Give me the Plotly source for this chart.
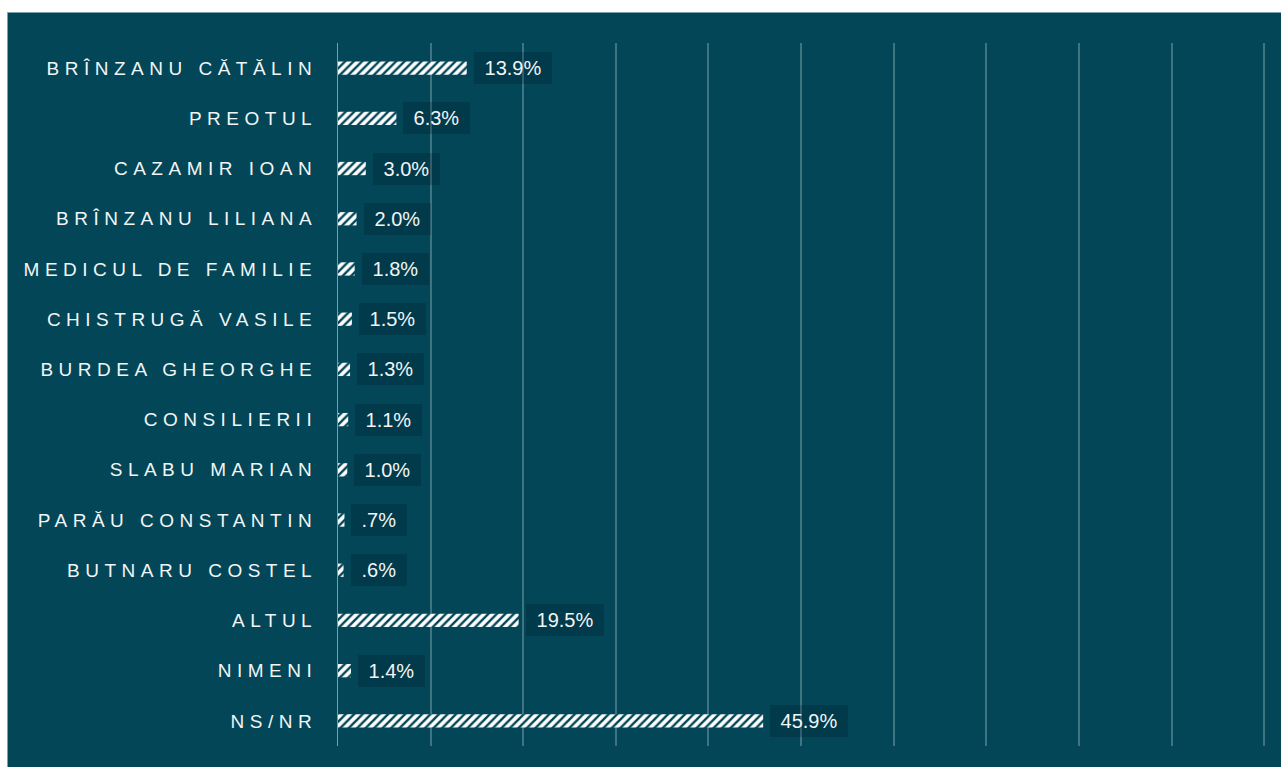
import plotly.graph_objects as go

categories = ["BRÎNZANU CĂTĂLIN", "PREOTUL", "CAZAMIR IOAN", "BRÎNZANU LILIANA",
              "MEDICUL DE FAMILIE", "CHISTRUGĂ VASILE", "BURDEA GHEORGHE",
              "CONSILIERII", "SLABU MARIAN", "PARĂU CONSTANTIN", "BUTNARU COSTEL",
              "ALTUL", "NIMENI", "NS/NR"]
values = [13.9, 6.3, 3.0, 2.0, 1.8, 1.5, 1.3, 1.1, 1.0, 0.7, 0.6, 19.5, 1.4, 45.9]
value_labels = ["13.9%", "6.3%", "3.0%", "2.0%", "1.8%", "1.5%", "1.3%", "1.1%",
                "1.0%", ".7%", ".6%", "19.5%", "1.4%", "45.9%"]

BG = "#024657"
FONT = "Liberation Sans, Arial, sans-serif"

fig = go.Figure()
fig.add_trace(go.Bar(
    x=values, y=categories, orientation="h", width=0.265,
    marker=dict(color="white", line=dict(width=0),
                pattern=dict(shape="/", fgcolor=BG, bgcolor="white",
                             size=6, solidity=0.4, fillmode="replace")),
    hoverinfo="skip",
))

for c, v, t in zip(categories, values, value_labels):
    fig.add_annotation(x=v, y=c, xref="x", yref="y", text="\u00a0" + t + "\u00a0",
                       showarrow=False, xanchor="left", yanchor="middle", xshift=7,
                       bgcolor="rgba(0,20,30,0.22)", borderpad=5, borderwidth=0,
                       font=dict(family=FONT, size=20, color="#f2f5f6"))

# body margin removed below, so figure coords == page coords
W, H = 1281, 767
L, T = 338, 43
pw, ph = 929, 703
R = W - L - pw
B = H - T - ph
fig.add_shape(type="rect", xref="paper", yref="paper", layer="below",
              x0=(7.5 - L) / pw, x1=(W + 20 - L) / pw,
              y0=-(B + 20) / ph, y1=(H - B - 12.5) / ph,
              fillcolor=BG, line=dict(color="#7aa3b0", width=1))

ticktext = ['<span style="letter-spacing:5.5px">' + c + '</span>' for c in categories]

fig.update_layout(
    width=W, height=H,
    margin=dict(l=L, r=R, t=T, b=B, pad=0),
    paper_bgcolor="white", plot_bgcolor="rgba(0,0,0,0)",
    showlegend=False,
    font=dict(family=FONT, size=19, color="#f2f5f6"),
    xaxis=dict(range=[0, 100.3], tickvals=[0, 10, 20, 30, 40, 50, 60, 70, 80, 90, 100],
               showgrid=True, gridcolor="#3f7483",
               gridwidth=2, zeroline=False, showticklabels=False, showline=False,
               fixedrange=True),
    yaxis=dict(type="category", categoryorder="array", categoryarray=categories,
               tickvals=categories, ticktext=ticktext, range=[13.5, -0.5],
               showline=True, linecolor="#2cb8e3", linewidth=1, showgrid=False,
               zeroline=False, ticks="", ticklabelstandoff=16, fixedrange=True,
               tickfont=dict(family=FONT, size=19, color="#f2f5f6")),
)

fig.write_html("out.html", config={"displayModeBar": False, "staticPlot": True},
               post_script="document.body.style.margin='0';document.documentElement.style.overflow='hidden';")
